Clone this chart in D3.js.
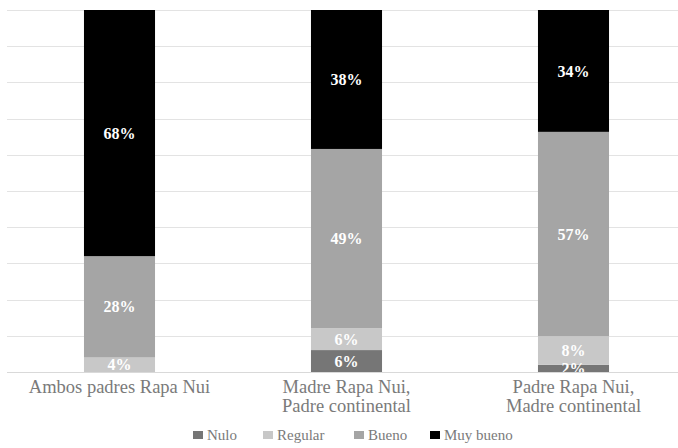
<!DOCTYPE html>
<html>
<head>
<meta charset="utf-8">
<script src="https://cdn.jsdelivr.net/npm/d3@7"></script>
<style>
  html, body { margin: 0; padding: 0; background: #fff; }
  svg { display: block; }
</style>
</head>
<body>
<svg id="chart" width="678" height="448"></svg>
<script>
// Categories (each may wrap over two lines)
const categories = [
  ["Ambos padres Rapa Nui"],
  ["Madre Rapa Nui,", "Padre continental"],
  ["Padre Rapa Nui,", "Madre continental"]
];
const categoryKeys = ["Ambos padres Rapa Nui", "Madre Rapa Nui, Padre continental", "Padre Rapa Nui, Madre continental"];

// Series (percent of each group)
const seriesNames = ["Nulo", "Regular", "Bueno", "Muy bueno"];
const nulo     = [0, 6, 2];
const regular  = [4, 6, 8];
const bueno    = [28, 49, 57];
const muyBueno = [68, 38, 34];
const seriesColors = ["#767676", "#c8c8c8", "#a5a5a5", "#000000"];

// Gridline ticks (share of 100%)
const yTicks = [0, 0.1, 0.2, 0.3, 0.4, 0.5, 0.6, 0.7, 0.8, 0.9, 1.0];

const FONT = '"Liberation Serif"';

const rows = categoryKeys.map((k, i) => ({
  cat: k,
  "Nulo": nulo[i],
  "Regular": regular[i],
  "Bueno": bueno[i],
  "Muy bueno": muyBueno[i]
}));

const svg = d3.select("#chart");
const plot = { left: 7, top: 10, bottom: 372 };

const x = d3.scaleBand()
  .domain(categoryKeys)
  .range([6, 687])
  .paddingInner(0.687)
  .paddingOuter(0.3435);

const y = d3.scaleLinear().domain([0, 1]).range([plot.bottom, plot.top]);

const stacked = d3.stack()
  .keys(seriesNames)
  .offset(d3.stackOffsetExpand)(rows);

// Horizontal gridlines
svg.append("g")
  .selectAll("line")
  .data(yTicks.filter(t => t > 0))
  .join("line")
  .attr("x1", plot.left).attr("x2", 678)
  .attr("y1", d => Math.round(y(d)) + 0.5).attr("y2", d => Math.round(y(d)) + 0.5)
  .attr("stroke", "#e3e3e3").attr("stroke-width", 1.2);

// Clip labels to the plot area
svg.append("defs").append("clipPath").attr("id", "plotClip")
  .append("rect")
  .attr("x", 0).attr("y", plot.top)
  .attr("width", 678).attr("height", plot.bottom - plot.top);

// Bars
const layers = svg.append("g").selectAll("g")
  .data(stacked)
  .join("g")
  .attr("fill", (d, i) => seriesColors[i]);

layers.selectAll("rect")
  .data(d => d)
  .join("rect")
  .attr("x", d => x(d.data.cat))
  .attr("width", x.bandwidth())
  .attr("y", d => y(d[1]))
  .attr("height", d => y(d[0]) - y(d[1]));

// Baseline axis
svg.append("line")
  .attr("x1", plot.left).attr("x2", 678)
  .attr("y1", plot.bottom + 0.5).attr("y2", plot.bottom + 0.5)
  .attr("stroke", "#d9d9d9").attr("stroke-width", 1.2);

// Value labels
const labels = svg.append("g").attr("clip-path", "url(#plotClip)");
stacked.forEach((layer) => {
  labels.selectAll(null)
    .data(layer.filter(d => d.data[layer.key] > 0))
    .join("text")
    .attr("x", d => x(d.data.cat) + x.bandwidth() / 2)
    .attr("y", d => (y(d[0]) + y(d[1])) / 2)
    .attr("dy", "0.35em")
    .attr("text-anchor", "middle")
    .style("font-family", FONT)
    .style("font-weight", "bold")
    .style("font-size", "16px")
    .attr("fill", "#ffffff")
    .text(d => d.data[layer.key] + "%");
});

// Category axis labels
const catG = svg.append("g");
categories.forEach((lines, i) => {
  const cx = x(categoryKeys[i]) + x.bandwidth() / 2;
  lines.forEach((ln, j) => {
    catG.append("text")
      .attr("x", cx)
      .attr("y", 392.5 + j * 19.5)
      .attr("text-anchor", "middle")
      .style("font-family", FONT)
      .style("font-size", "18.5px")
      .attr("fill", "#7a7a7a")
      .text(ln);
  });
});

// Legend
const legendX = [193, 263, 354, 430];
const legend = svg.append("g");
seriesNames.forEach((name, i) => {
  legend.append("rect")
    .attr("x", legendX[i]).attr("y", 431)
    .attr("width", 10).attr("height", 8)
    .attr("fill", seriesColors[i]);
  legend.append("text")
    .attr("x", legendX[i] + 14).attr("y", 440)
    .style("font-family", FONT)
    .style("font-size", "15px")
    .attr("fill", "#7a7a7a")
    .text(name);
});
</script>
</body>
</html>
